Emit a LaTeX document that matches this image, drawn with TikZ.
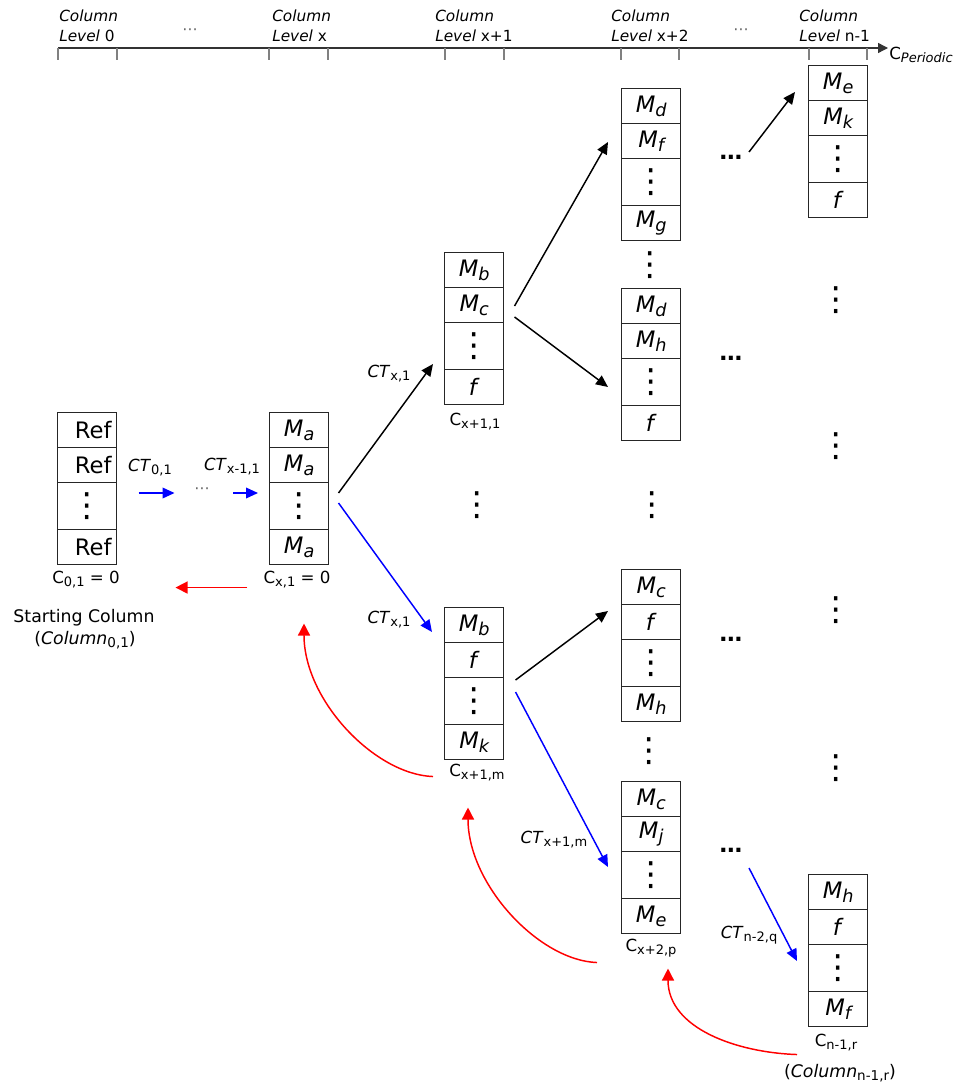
\documentclass[tikz,border=0pt]{standalone}
\usepackage{fontspec}
\setmainfont{DejaVu Sans}
\usetikzlibrary{arrows.meta,calc}
\newcommand\sbs[1]{\raisebox{-0.32ex}{\scalebox{0.78}{#1}}}
\newcommand\vdt{{\fontsize{25}{28}\selectfont ⋮}}
\tikzset{
  cell/.style={draw=black!85, line width=1pt, inner sep=0pt, minimum width=44.25pt,
    anchor=north west, font=\fontsize{17}{20}\selectfont},
  rowa/.style={cell, minimum height=26.25pt},
  rowd/.style={cell, minimum height=35.25pt},
  colframe/.style={inner sep=0pt, minimum width=44.25pt, minimum height=114pt, anchor=north west},
  axl/.style={inner sep=0pt, font=\fontsize{11.5}{14}\selectfont},
  lbl/.style={inner sep=0pt, font=\fontsize{12.5}{15}\selectfont},
  big/.style={inner sep=0pt, font=\fontsize{17}{20}\selectfont\bfseries},
  bigv/.style={inner sep=0pt, font=\fontsize{25}{28}\selectfont},
  small/.style={inner sep=0pt, text=black!60, font=\fontsize{11.5}{14}\selectfont},
  axisline/.style={draw=black!80, line width=1pt, -{Triangle[length=7.5pt,width=7.5pt]}},
  tickline/.style={draw=black!50, line width=0.8pt},
  barr/.style={draw=blue, line width=1.1pt, -{Triangle[length=9pt,width=8pt]}},
  karr/.style={draw=black, line width=1.1pt, -{Triangle[length=9pt,width=8pt]}},
  rarr/.style={draw=red, line width=1.1pt, -{Triangle[length=9pt,width=9pt]}},
}
\newcommand\mcol[6]{%
  \node[colframe] (#1) at (#2,#3) {};
  \node[rowa] (#1-1) at (#1.north west) {#4};
  \node[rowa] (#1-2) at ($(#1.north west)+(0,35)$) {#5};
  \node[rowd] (#1-3) at ($(#1.north west)+(0,70)$) {\vdt};
  \node[rowa] (#1-4) at ($(#1.north west)+(0,117)$) {#6};
}
\begin{document}
\begin{tikzpicture}[x=0.75pt,y=-0.75pt]
\useasboundingbox (0,0) rectangle (964,1091);
% axis
\coordinate (ax0) at (58,48);
\coordinate (ax1) at (888,48);
\draw[axisline] (ax0) -- (ax1);
\foreach \t in {58,117,269,328,445,504,621,679,809,867}
  \draw[tickline] (\t,48) -- (\t,60);
\node[axl, anchor=base west] (l0a) at (59,22) {\textit{Column}};
\node[axl, anchor=base west] (l0b) at (59,42) {\textit{Level} 0};
\node[axl, anchor=base west] (l1a) at (272,22) {\textit{Column}};
\node[axl, anchor=base west] (l1b) at (272,42) {\textit{Level} x};
\node[axl, anchor=base west] (l2a) at (435,22) {\textit{Column}};
\node[axl, anchor=base west] (l2b) at (435,42) {\textit{Level} x+1};
\node[axl, anchor=base west] (l3a) at (611,22) {\textit{Column}};
\node[axl, anchor=base west] (l3b) at (611,42) {\textit{Level} x+2};
\node[axl, anchor=base west] (l4a) at (799,22) {\textit{Column}};
\node[axl, anchor=base west] (l4b) at (799,42) {\textit{Level} n-1};
\node[small] (ad1) at (190,32) {⋯};
\node[small] (ad2) at (741,32) {⋯};
\node[lbl, anchor=west] (cper) at (889,55) {C\sbs{\textit{Periodic}}};
% columns
\mcol{ref}{57}{412}{\hspace*{9pt}Ref}{\hspace*{9pt}Ref}{\hspace*{9pt}Ref}
\mcol{ma}{269}{412}{\textit{M\sbs{a}}}{\textit{M\sbs{a}}}{\textit{M\sbs{a}}}
\mcol{cx1}{444}{252}{\textit{M\sbs{b}}}{\textit{M\sbs{c}}}{\textit{f}}
\mcol{cxm}{444}{607}{\textit{M\sbs{b}}}{\textit{f}}{\textit{M\sbs{k}}}
\mcol{d1}{621}{88}{\textit{M\sbs{d}}}{\textit{M\sbs{f}}}{\textit{M\sbs{g}}}
\mcol{d2}{621}{288}{\textit{M\sbs{d}}}{\textit{M\sbs{h}}}{\textit{f}}
\mcol{d3}{621}{569}{\textit{M\sbs{c}}}{\textit{f}}{\textit{M\sbs{h}}}
\mcol{d4}{621}{781}{\textit{M\sbs{c}}}{\textit{M\sbs{j}}}{\textit{M\sbs{e}}}
\mcol{e1}{808}{65}{\textit{M\sbs{e}}}{\textit{M\sbs{k}}}{\textit{f}}
\mcol{e2}{808}{874}{\textit{M\sbs{h}}}{\textit{f}}{\textit{M\sbs{f}}}
% labels under columns
\node[lbl] (c01) at (86,580) {C\sbs{0,1} = 0};
\node[lbl] (cx1l) at (297,580) {C\sbs{x,1} = 0};
\node[lbl, font=\fontsize{13}{16}\selectfont] (start) at (84,618) {Starting Column};
\node[lbl, font=\fontsize{13}{16}\selectfont] (startb) at (85,640) {(\textit{Column}\sbs{0,1})};
\node[lbl] (lcx1) at (475,422) {C\sbs{x+1,1}};
\node[lbl] (lcxm) at (477,773) {C\sbs{x+1,m}};
\node[lbl] (ld4) at (651,948) {C\sbs{x+2,p}};
\node[lbl] (le2) at (836,1043) {C\sbs{n-1,r}};
\node[lbl, font=\fontsize{13}{16}\selectfont] (le2b) at (840,1073) {(\textit{Column}\sbs{n-1,r})};
% dots
\node[big] (hd1) at (731,157) {…};
\node[big] (hd2) at (731,358) {…};
\node[big] (hd3) at (731,639) {…};
\node[big] (hd4) at (731,850) {…};
\node[bigv] (vd1) at (650,265) {⋮};
\node[bigv] (vd2) at (652,505) {⋮};
\node[bigv] (vd3) at (649,751) {⋮};
\node[bigv] (vd4) at (477,505) {⋮};
\node[bigv] (vn1) at (836,300) {⋮};
\node[bigv] (vn2) at (836,446) {⋮};
\node[bigv] (vn3) at (836,610) {⋮};
\node[bigv] (vn4) at (836,768) {⋮};
\node[small] (md) at (202,491) {⋯};
% transition labels
\node[lbl] (ct01) at (150,468) {\textit{CT}\sbs{0,1}};
\node[lbl] (ctx11) at (232,467) {\textit{CT}\sbs{x-1,1}};
\node[lbl] (ctxa) at (389,374) {\textit{CT}\sbs{x,1}};
\node[lbl] (ctxb) at (389,620) {\textit{CT}\sbs{x,1}};
\node[lbl] (ctx1m) at (554,840) {\textit{CT}\sbs{x+1,m}};
\node[lbl] (ctn2) at (749,935) {\textit{CT}\sbs{n-2,q}};
% arrows
\draw[barr] ($(ref.north east)+(22,81)$) -- ($(ref.north east)+(58,81)$);
\draw[barr] ($(ma.north west)+(-36,81)$) -- ($(ma.north west)+(-11,81)$);
\draw[rarr] ($(ma.south west)+(-22,23)$) -- ($(ref.south east)+(59,23)$);
\draw[karr] ($(ma.north east)+(10,81)$) -- ($(cx1.north west)+(-11,112)$);
\draw[barr] ($(ma.north east)+(10,91)$) -- ($(cxm.north west)+(-12,25)$);
\draw[karr] ($(cx1.north east)+(11,54)$) -- ($(d1.north west)+(-13,54)$);
\draw[karr] ($(cx1.north east)+(11,65)$) -- ($(d2.north west)+(-13,99)$);
\draw[karr] ($(cxm.north east)+(12,73)$) -- ($(d3.north west)+(-13,42)$);
\draw[barr] ($(cxm.north east)+(12,85)$) -- ($(d4.north west)+(-13,86)$);
\draw[karr] ($(hd1)+(18,-5)$) -- ($(e1.north west)+(-13,27)$);
\draw[barr] ($(hd4)+(18,18)$) -- ($(e2.north west)+(-11,87)$);
\draw[rarr] ($(cxm.south west)+(-11,17)$) .. controls +(-58,-2) and +(0,77) .. ($(ma.south west)+(35,59)$);
\draw[rarr] ($(d4.south west)+(-24,29)$) .. controls +(-58,-2) and +(0,77) .. ($(cxm.south west)+(24,48)$);
\draw[rarr] ($(e2.south west)+(-11,28)$) .. controls +(-60,-2) and +(0,60) .. ($(d4.south west)+(47,35)$);
\end{tikzpicture}
\end{document}
